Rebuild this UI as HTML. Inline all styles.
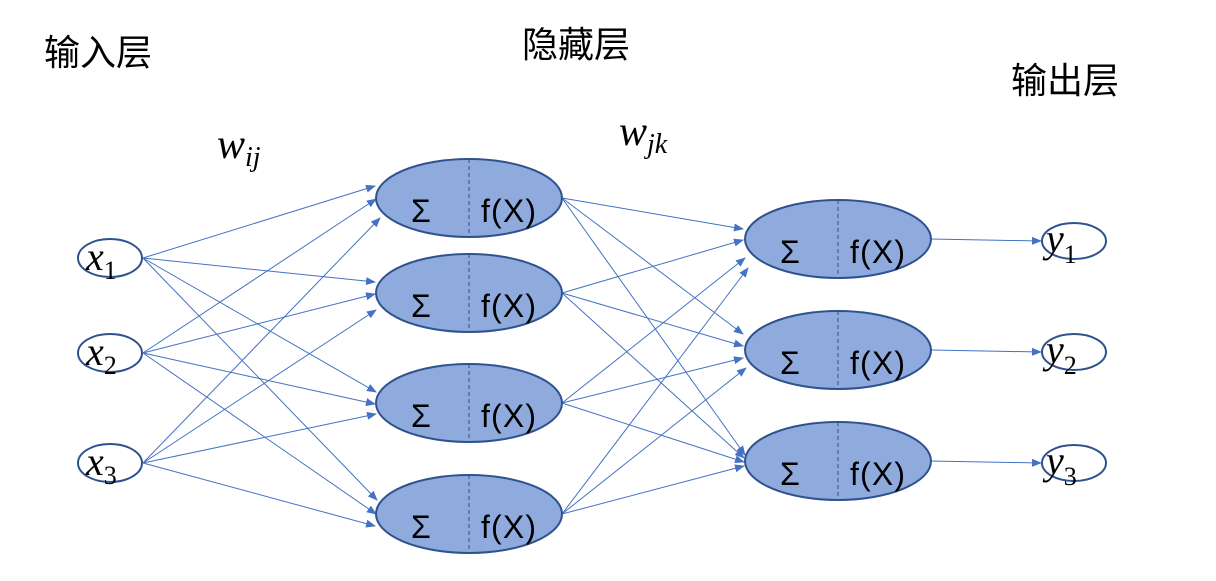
<!DOCTYPE html>
<html><head><meta charset="utf-8"><style>
html,body{margin:0;padding:0;background:#fff;}
svg{display:block;}
.cn{font-family:"Liberation Sans","Noto Sans CJK SC",sans-serif;font-size:36px;fill:#000;}
.m{font-family:"Liberation Serif","DejaVu Serif",serif;font-style:italic;fill:#000;}
.s{font-family:"Liberation Sans","DejaVu Sans",sans-serif;font-size:32px;fill:#000;}
</style></head><body>
<svg width="1216" height="581" viewBox="0 0 1216 581" xmlns="http://www.w3.org/2000/svg">
<defs><marker id="a" markerWidth="10" markerHeight="8" refX="9" refY="4" orient="auto" markerUnits="userSpaceOnUse"><path d="M0,0 L10,4 L0,8 z" fill="#4472C4"/></marker></defs>
<text class="cn" x="44" y="65">输入层</text>
<text class="cn" x="522" y="57">隐藏层</text>
<text class="cn" x="1011" y="93">输出层</text>
<text class="m" x="217" y="158" font-size="42">w<tspan font-size="28" dy="8">ij</tspan></text>
<text class="m" x="619" y="145" font-size="42">w<tspan font-size="28" dy="8">jk</tspan></text>
<g stroke="#4472C4" stroke-width="1" fill="none" marker-end="url(#a)">
<line x1="143" y1="258" x2="375" y2="186"/><line x1="143" y1="258" x2="375" y2="282"/><line x1="143" y1="258" x2="376" y2="392"/><line x1="143" y1="258" x2="377" y2="500"/>
<line x1="143" y1="353" x2="376" y2="199"/><line x1="143" y1="353" x2="375" y2="294"/><line x1="143" y1="353" x2="375" y2="404"/><line x1="143" y1="353" x2="376" y2="514"/>
<line x1="143" y1="463" x2="380" y2="218"/><line x1="143" y1="463" x2="376" y2="310"/><line x1="143" y1="463" x2="376" y2="414"/><line x1="143" y1="463" x2="375" y2="526"/>
<line x1="562" y1="198" x2="743" y2="229"/><line x1="562" y1="198" x2="743" y2="334"/><line x1="562" y1="198" x2="745" y2="455"/>
<line x1="562" y1="293" x2="743" y2="240"/><line x1="562" y1="293" x2="743" y2="346"/><line x1="562" y1="293" x2="744" y2="458"/>
<line x1="562" y1="403" x2="745" y2="258"/><line x1="562" y1="403" x2="743" y2="358"/><line x1="562" y1="403" x2="744" y2="462"/>
<line x1="562" y1="514" x2="748" y2="268"/><line x1="562" y1="514" x2="746" y2="368"/><line x1="562" y1="514" x2="744" y2="466"/>
<line x1="931" y1="239" x2="1041" y2="241"/><line x1="931" y1="350" x2="1041" y2="352"/><line x1="931" y1="461" x2="1041" y2="463"/>
</g>
<g fill="#fff" stroke="#2F528F" stroke-width="2">
<ellipse cx="110" cy="258" rx="32" ry="19"/><ellipse cx="110" cy="353" rx="32" ry="19"/><ellipse cx="110" cy="463" rx="32" ry="19"/>
<ellipse cx="1074" cy="241" rx="32" ry="18"/><ellipse cx="1074" cy="352" rx="32" ry="18"/><ellipse cx="1074" cy="463" rx="32" ry="18"/>
</g>
<g fill="#8FAADC" stroke="#2F528F" stroke-width="2">
<ellipse cx="469" cy="198" rx="93" ry="39"/><ellipse cx="469" cy="293" rx="93" ry="39"/><ellipse cx="469" cy="403" rx="93" ry="39"/><ellipse cx="469" cy="514" rx="93" ry="39"/>
<ellipse cx="838" cy="239" rx="93" ry="39"/><ellipse cx="838" cy="350" rx="93" ry="39"/><ellipse cx="838" cy="461" rx="93" ry="39"/>
</g>
<g stroke="#2F528F" stroke-width="1" stroke-dasharray="4,3">
<line x1="469" y1="159" x2="469" y2="237"/><line x1="469" y1="254" x2="469" y2="332"/><line x1="469" y1="364" x2="469" y2="442"/><line x1="469" y1="475" x2="469" y2="553"/>
<line x1="838" y1="200" x2="838" y2="278"/><line x1="838" y1="311" x2="838" y2="389"/><line x1="838" y1="422" x2="838" y2="500"/>
</g>
<g class="s">
<text x="411" y="222">Σ</text><text x="481" y="222" textLength="55">f(X)</text>
<text x="411" y="317">Σ</text><text x="481" y="317" textLength="55">f(X)</text>
<text x="411" y="427">Σ</text><text x="481" y="427" textLength="55">f(X)</text>
<text x="411" y="538">Σ</text><text x="481" y="538" textLength="55">f(X)</text>
<text x="780" y="263">Σ</text><text x="850" y="263" textLength="55">f(X)</text>
<text x="780" y="374">Σ</text><text x="850" y="374" textLength="55">f(X)</text>
<text x="780" y="485">Σ</text><text x="850" y="485" textLength="55">f(X)</text>
</g>
<g class="m" font-size="40">
<text x="86" y="270">x<tspan font-style="normal" font-size="26" dy="9">1</tspan></text>
<text x="86" y="365">x<tspan font-style="normal" font-size="26" dy="9">2</tspan></text>
<text x="86" y="475">x<tspan font-style="normal" font-size="26" dy="9">3</tspan></text>
<text x="1046" y="252">y<tspan font-style="normal" font-size="26" dy="11">1</tspan></text>
<text x="1046" y="363">y<tspan font-style="normal" font-size="26" dy="11">2</tspan></text>
<text x="1046" y="474">y<tspan font-style="normal" font-size="26" dy="11">3</tspan></text>
</g>
</svg>
</body></html>
